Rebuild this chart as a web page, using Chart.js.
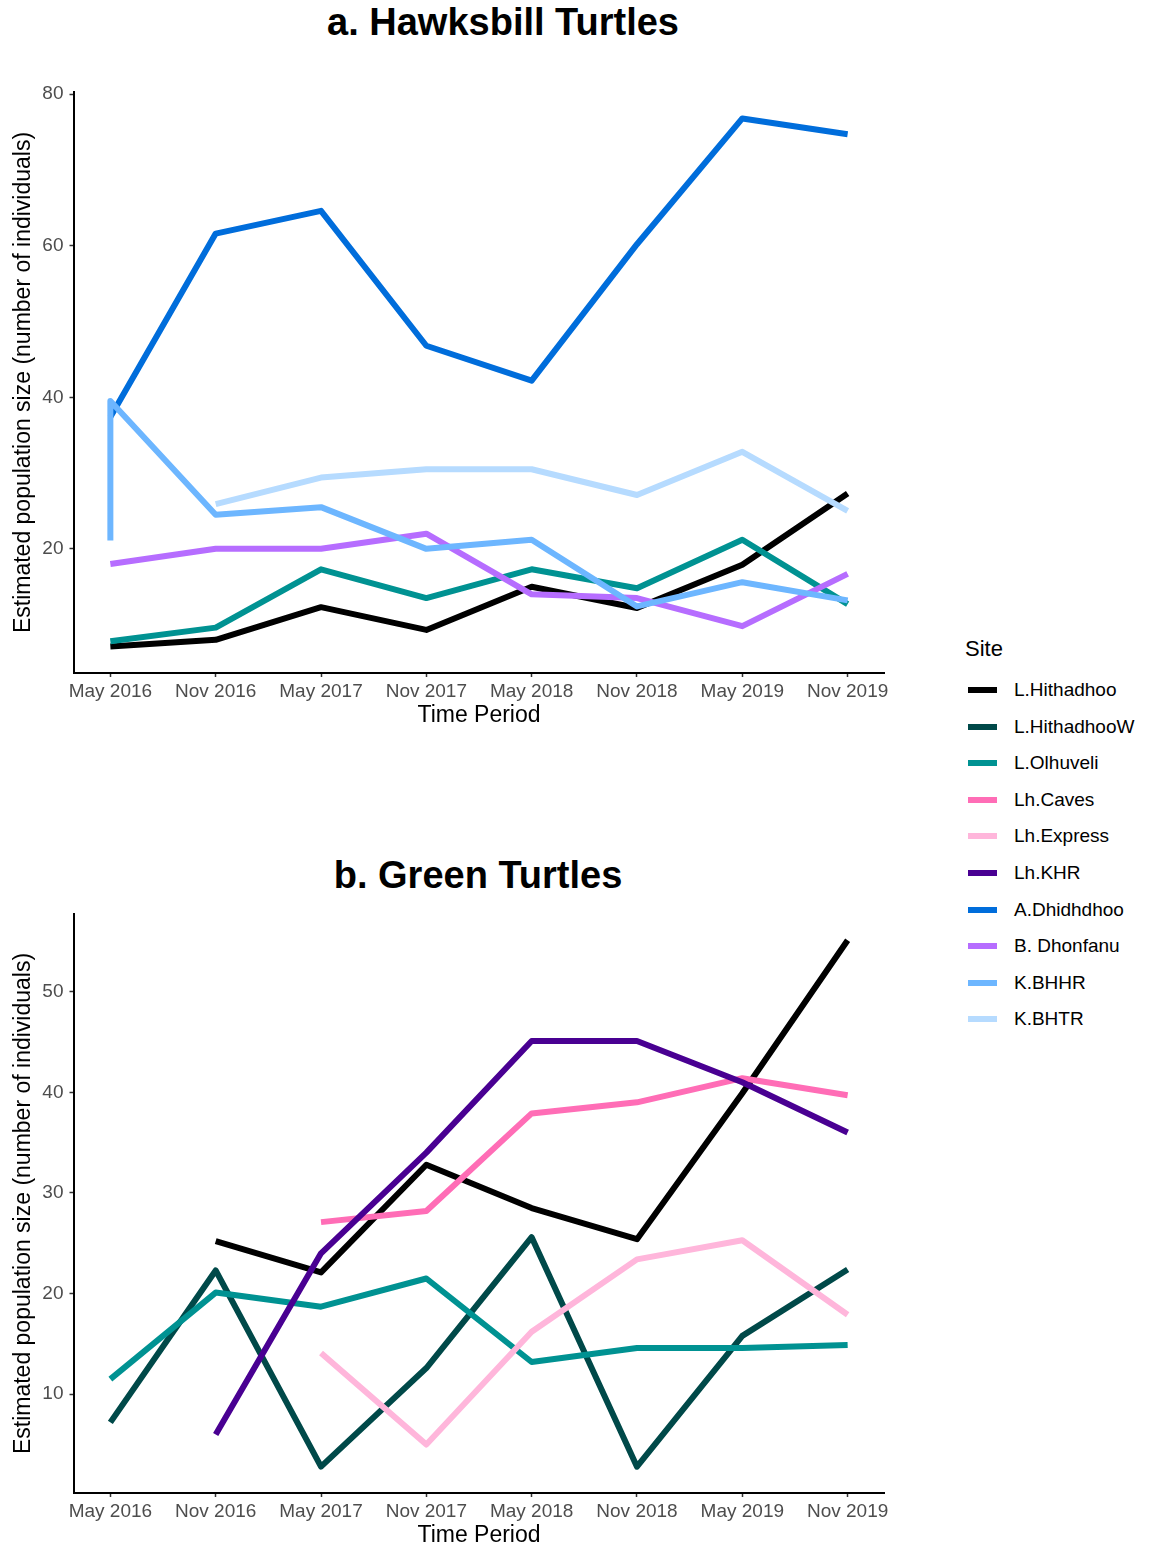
<!DOCTYPE html>
<html>
<head>
<meta charset="utf-8">
<script src="https://cdn.jsdelivr.net/npm/chart.js@4.4.1/dist/chart.umd.min.js"></script>
<style>
  body { margin: 0; background: #fff; font-family: "Liberation Sans", Arial, sans-serif; }
  #page { position: relative; width: 1153px; height: 1548px; overflow: hidden; }
  canvas { position: absolute; left: 0; }
  .title { position: absolute; transform: translate(-50%, -50%); font-weight: bold; font-size: 38px; line-height: 1; white-space: nowrap; color: #000; }
  #legend { position: absolute; left: 965px; top: 636px; }
  #legend .head { font-size: 22px; line-height: 26px; color: #000; }
  #legend .item { position: absolute; left: 0; height: 24px; width: 190px; }
  #legend .key { position: absolute; left: 3px; top: 9px; width: 29px; height: 6px; }
  #legend .lab { position: absolute; left: 49px; top: 0; font-size: 19px; line-height: 24px; color: #000; white-space: nowrap; }
</style>
</head>
<body>
<div id="page">
  <div class="title" style="left:503px; top:22px;">a. Hawksbill Turtles</div>
  <canvas id="hawksbill" width="900" height="728" style="top:0;"></canvas>
  <div class="title" style="left:478px; top:875px;">b. Green Turtles</div>
  <canvas id="green" width="900" height="788" style="top:760px;"></canvas>
  <div id="legend"><div class="head">Site</div></div>
</div>
<script>
// survey periods on the x axis
const periods = ['May 2016', 'Nov 2016', 'May 2017', 'Nov 2017', 'May 2018', 'Nov 2018', 'May 2019', 'Nov 2019'];

// sites and their colours (legend order)
const sites = ['L.Hithadhoo', 'L.HithadhooW', 'L.Olhuveli', 'Lh.Caves', 'Lh.Express', 'Lh.KHR', 'A.Dhidhdhoo', 'B. Dhonfanu', 'K.BHHR', 'K.BHTR'];
const siteColors = ['#000000', '#004949', '#009292', '#ff6db6', '#ffb6db', '#490092', '#006ddb', '#b66dff', '#6db6ff', '#b6dbff'];

// hawksbill estimates per period (null = not surveyed, two numbers = two estimates that period)
const hawksLHithadhoo = [7.1, 8.0, 12.3, 9.3, 15.0, 12.2, 17.9, 27.3];
const hawksLOlhuveli  = [7.8, 9.6, 17.3, 13.5, 17.3, 14.8, 21.2, 12.7];
const hawksADhidhdhoo = [37.4, 61.6, 64.6, 46.8, 42.2, 60.2, 76.8, 74.7];
const hawksBDhonfanu  = [18.0, 20.0, 20.0, 22.0, 14.0, 13.5, 9.8, 16.7];
const hawksKBHHR      = [[21.1, 39.5], 24.5, 25.5, 20.0, 21.2, 12.4, 15.6, 13.2];
const hawksKBHTR      = [null, 25.9, 29.4, 30.5, 30.5, 27.1, 32.8, 25.0];
const hawksYTicks = [20, 40, 60, 80];

// green turtle estimates per period
const greenLHithadhoo  = [null, 25.2, 22.1, 32.8, 28.5, 25.4, 39.9, 55.1];
const greenLHithadhooW = [7.2, 22.3, 2.8, 12.6, 25.6, 2.8, 15.8, 22.4];
const greenLOlhuveli   = [11.5, 20.1, 18.7, 21.5, 13.2, 14.6, 14.6, 14.9];
const greenLhCaves     = [null, null, 27.1, 28.2, 37.9, 39.0, 41.4, 39.7];
const greenLhExpress   = [null, null, 14.1, 5.0, 16.2, 23.4, 25.3, 17.9];
const greenLhKHR       = [null, 6.0, 24.0, 34.0, 45.1, 45.1, 41.0, 36.0];
const greenYTicks = [10, 20, 30, 40, 50];

const hawksSeries = {
  'L.Hithadhoo': hawksLHithadhoo,
  'L.Olhuveli': hawksLOlhuveli,
  'A.Dhidhdhoo': hawksADhidhdhoo,
  'B. Dhonfanu': hawksBDhonfanu,
  'K.BHHR': hawksKBHHR,
  'K.BHTR': hawksKBHTR
};
const greenSeries = {
  'L.Hithadhoo': greenLHithadhoo,
  'L.HithadhooW': greenLHithadhooW,
  'L.Olhuveli': greenLOlhuveli,
  'Lh.Caves': greenLhCaves,
  'Lh.Express': greenLhExpress,
  'Lh.KHR': greenLhKHR
};

Chart.defaults.font.family = '"Liberation Sans", Arial, sans-serif';
Chart.defaults.color = '#4d4d4d';

function toPoints(values) {
  return values.flatMap((v, i) => v == null ? [] : [].concat(v).map(y => ({ x: i, y: y })));
}

function drawPanel(id, series, yTicks, padTop) {
  const datasets = [];
  let all = [];
  sites.forEach((site, i) => {
    if (!series[site]) return;
    const pts = toPoints(series[site]);
    all = all.concat(pts.map(p => p.y));
    datasets.push({
      label: site,
      data: pts,
      borderColor: siteColors[i],
      backgroundColor: siteColors[i],
      borderWidth: 6,
      borderCapStyle: 'butt',
      borderJoinStyle: 'round',
      pointRadius: 0,
      tension: 0,
      order: -i   // later sites sit on top
    });
  });

  // 5% padding round the data, like ggplot
  const lo = Math.min(...all), hi = Math.max(...all);
  const yPad = (hi - lo) * 0.05;
  const xPad = (periods.length - 1) * 0.05;

  return new Chart(document.getElementById(id), {
    type: 'line',
    data: { datasets: datasets },
    options: {
      responsive: false,
      animation: false,
      devicePixelRatio: 1,
      events: [],
      layout: { padding: { top: padTop, right: 15.5, left: 0, bottom: 0 } },
      plugins: { legend: { display: false }, tooltip: { enabled: false } },
      scales: {
        x: {
          type: 'linear',
          min: -xPad,
          max: periods.length - 1 + xPad,
          afterBuildTicks: s => { s.ticks = periods.map((_, i) => ({ value: i })); },
          afterFit: s => { s.height = 55; },
          grid: { drawOnChartArea: false, drawTicks: true, tickLength: 4, tickColor: '#333', tickWidth: 1.5 },
          border: { display: true, color: '#000', width: 2 },
          ticks: { font: { size: 19 }, color: '#4d4d4d', padding: 3, maxRotation: 0, autoSkip: false,
                   callback: v => periods[v] },
          title: { display: true, text: 'Time Period', color: '#000', font: { size: 23, lineHeight: 1 },
                   padding: { top: 0, bottom: 0.5 } }
        },
        y: {
          min: lo - yPad,
          max: hi + yPad,
          afterBuildTicks: s => { s.ticks = yTicks.map(v => ({ value: v })); },
          afterFit: s => { s.width = 73.5; },
          grid: { drawOnChartArea: false, drawTicks: true, tickLength: 4, tickColor: '#333', tickWidth: 1.5 },
          border: { display: true, color: '#000', width: 2 },
          ticks: { font: { size: 19 }, color: '#4d4d4d', padding: 6 },
          title: { display: true, text: 'Estimated population size (number of individuals)', color: '#000',
                   font: { size: 23, lineHeight: 1 }, padding: { top: 12.5, bottom: 0 } }
        }
      }
    }
  });
}

drawPanel('hawksbill', hawksSeries, hawksYTicks, 92);
drawPanel('green', greenSeries, greenYTicks, 154);

// shared legend for both panels
const legend = document.getElementById('legend');
sites.forEach((site, i) => {
  const row = document.createElement('div');
  row.className = 'item';
  row.style.top = (42 + i * 36.6) + 'px';
  row.innerHTML = '<div class="key" style="background:' + siteColors[i] + '"></div><div class="lab">' + site + '</div>';
  legend.appendChild(row);
});
</script>
</body>
</html>
